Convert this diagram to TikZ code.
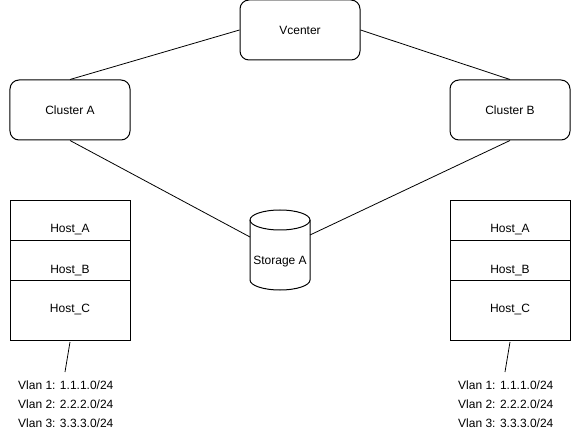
\documentclass[tikz,border=0pt]{standalone}
\usepackage{fontspec}
\setmainfont{Liberation Sans}
\begin{document}
\begin{tikzpicture}[x=1bp,y=-1bp,
  every node/.style={font=\fontsize{12bp}{14bp}\selectfont, inner sep=0pt},
  rbox/.style={draw, line width=1bp, rounded corners=9bp, minimum width=120bp, minimum height=60bp},
  hbox/.style={draw, line width=1bp, minimum width=120bp, anchor=north west},
  conn/.style={draw, line width=0.8bp},
  lbl/.style={anchor=west}]
\useasboundingbox (0,0) rectangle (571,437);
\fill[white] (0,0) rectangle (571,437);

\node[rbox] (vc) at (300,30) {Vcenter};
\node[rbox] (ca) at (70,110) {Cluster A};
\node[rbox] (cb) at (510,110) {Cluster B};

% storage cylinder
\draw[line width=1bp] (250,220) -- (250,280) arc[start angle=180,end angle=360,x radius=30,y radius=-10] -- (310,220) arc[start angle=0,end angle=180,x radius=30,y radius=-10] -- cycle;
\draw[line width=1bp] (250,220) arc[start angle=180,end angle=360,x radius=30,y radius=-10];
\node (st) at (280,262) {Storage A};
\coordinate (stL) at (250,237);
\coordinate (stR) at (310,235);

% left hosts
\node[hbox, minimum height=40bp] (la) at (10,200) {};
\node[hbox, minimum height=40bp] (lb) at (10,240) {};
\node[hbox, minimum height=60bp] (lc) at (10,280) {};
\node at (70,230) {Host\_A};
\node at (70,271) {Host\_B};
\node at (70,310) {Host\_C};

% right hosts
\node[hbox, minimum height=40bp] (ra) at (450,200) {};
\node[hbox, minimum height=40bp] (rb) at (450,240) {};
\node[hbox, minimum height=60bp] (rc) at (450,280) {};
\node at (510,230) {Host\_A};
\node at (510,271) {Host\_B};
\node at (510,310) {Host\_C};

% vlan labels
\node[lbl] (lv1) at (18,385) {Vlan 1: 1.1.1.0/24};
\node[lbl] (lv2) at (18,404) {Vlan 2: 2.2.2.0/24};
\node[lbl] (lv3) at (18,423) {Vlan 3: 3.3.3.0/24};
\node[lbl] (rv1) at (458,385) {Vlan 1: 1.1.1.0/24};
\node[lbl] (rv2) at (458,404) {Vlan 2: 2.2.2.0/24};
\node[lbl] (rv3) at (458,423) {Vlan 3: 3.3.3.0/24};
\coordinate (lvt) at (65,372);
\coordinate (rvt) at (505,372);
\coordinate (lcb) at (70,342);
\coordinate (rcb) at (510,342);

% connectors
\draw[conn] (ca.north) -- (vc.west);
\draw[conn] (vc.east) -- (cb.north);
\draw[conn] (ca.south) -- (stL);
\draw[conn] (cb.south) -- (stR);
\draw[conn] (lcb) -- (lvt);
\draw[conn] (rcb) -- (rvt);
\end{tikzpicture}
\end{document}
